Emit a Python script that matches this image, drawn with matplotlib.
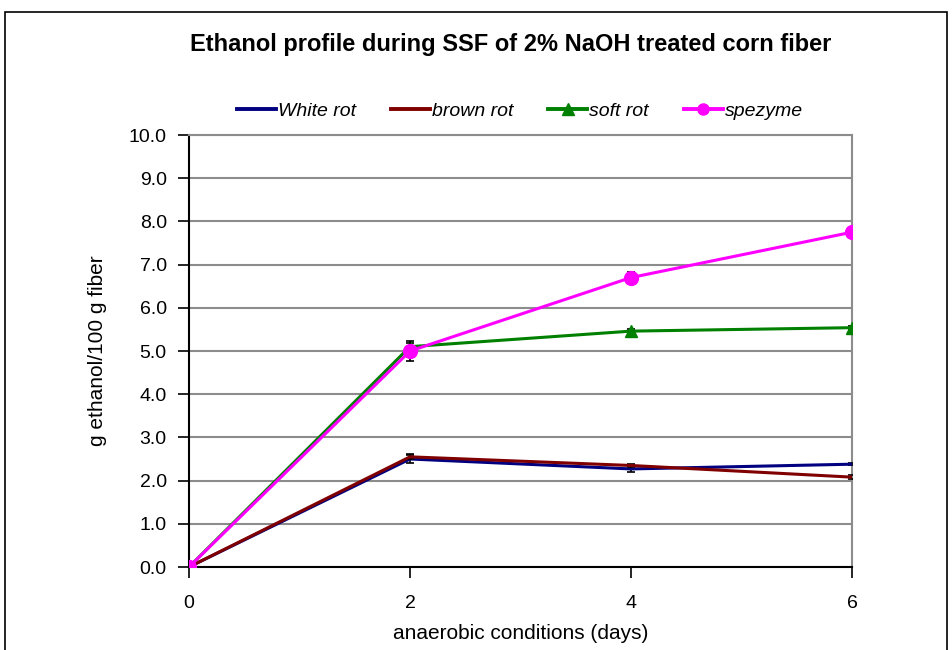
import matplotlib
matplotlib.use("Agg")
import matplotlib.pyplot as plt
from matplotlib.patches import Rectangle
from matplotlib.lines import Line2D

plt.rcParams['font.family'] = ['Liberation Sans', 'DejaVu Sans']

days = [0, 2, 4, 6]
white_rot = [0.0, 2.50, 2.27, 2.38]
white_err = [0.0, 0.10, 0.08, 0.03]
brown_rot = [0.0, 2.55, 2.35, 2.08]
brown_err = [0.0, 0.06, 0.04, 0.04]
soft_rot = [0.0, 5.10, 5.46, 5.54]
soft_err = [0.0, 0.08, 0.06, 0.05]
spezyme = [0.0, 5.00, 6.70, 7.75]
spezyme_err = [0.0, 0.22, 0.12, 0.05]

series_names = ['White rot', 'brown rot', 'soft rot', 'spezyme']
yticks = [0, 1, 2, 3, 4, 5, 6, 7, 8, 9, 10]
xticks = [0, 2, 4, 6]

fig = plt.figure(figsize=(9.52, 6.5), dpi=100)
ax = fig.add_axes([189/952, 1-567/650, (852-189)/952, (567-135)/650])

# outer border
fig.patches.append(Rectangle((5/952, -0.1), 942/952, 1.1 - 12/650, transform=fig.transFigure,
                             fill=False, edgecolor='black', linewidth=1.2, clip_on=False))

lw = 2.2
ekw = dict(ecolor='black', elinewidth=1.2, capsize=3, capthick=1.2)
styles = [
    dict(color='#000080', marker=None, ms=9),
    dict(color='#800000', marker=None, ms=9),
    dict(color='#008000', marker='^', ms=9),
    dict(color='#FF00FF', marker='o', ms=10),
]
data = [(white_rot, white_err), (brown_rot, brown_err), (soft_rot, soft_err), (spezyme, spezyme_err)]
handles = []
for i, ((vals, errs), st, name) in enumerate(zip(data, styles, series_names)):
    ax.errorbar(days, vals, yerr=errs, color=st['color'], lw=lw, marker=st['marker'],
                markersize=st['ms'], zorder=3 + i, **ekw)
    handles.append(Line2D([], [], color=st['color'], lw=lw + 0.6, marker=st['marker'], markersize=8))

ax.set_xlim(0, 6)
ax.set_ylim(0, 10)
ax.set_xticks(xticks)
ax.set_yticks(yticks)
ax.set_yticklabels([f"{v:.1f}" for v in yticks], fontsize=14)
ax.set_xticklabels([str(v) for v in xticks], fontsize=14)
ax.tick_params(axis='both', direction='out', length=8, width=1.2, pad=8)
ax.tick_params(axis='x', pad=12)
ax.grid(axis='y', color='#8c8c8c', linewidth=1.5, zorder=0)
ax.set_axisbelow(True)
for s in ['top', 'right']:
    ax.spines[s].set_color('#8c8c8c')
    ax.spines[s].set_linewidth(1.5)
for s in ['left', 'bottom']:
    ax.spines[s].set_color('black')
    ax.spines[s].set_linewidth(1.5)

ax.set_xlabel('anaerobic conditions (days)', fontsize=15, labelpad=9)
ax.set_ylabel('g ethanol/100 g fiber', fontsize=15, labelpad=16)

fig.text(511/952, 1-45/650, 'Ethanol profile during SSF of 2% NaOH treated corn fiber',
         ha='center', va='center', fontsize=17, fontweight='bold')

leg = fig.legend(handles, series_names, loc='center', bbox_to_anchor=(520/952, 1-111/650), ncol=4,
                 frameon=False, prop={'style': 'italic', 'size': 14}, handlelength=2.0,
                 handletextpad=0.1, columnspacing=1.8)

fig.savefig('out.png', dpi=100)
